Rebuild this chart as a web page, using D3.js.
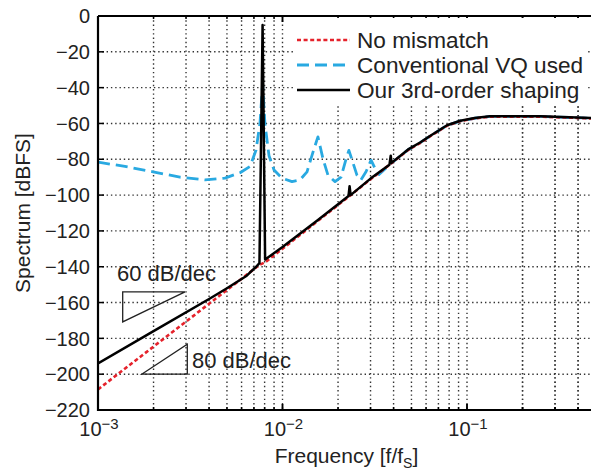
<!DOCTYPE html>
<html><head><meta charset="utf-8">
<script src="https://cdn.jsdelivr.net/npm/d3@7"></script>
<style>
body{margin:0;background:#fff}
svg{display:block}
text{font-family:"Liberation Sans",Arial,Helvetica,sans-serif;fill:#222}
</style>
</head><body>
<svg id="chart" width="591" height="474"></svg>
<script>
// ---------- data ----------
const xDomain = [1e-3, 0.5];
const yDomain = [-220, 0];
const yTickValues = [0, -20, -40, -60, -80, -100, -120, -140, -160, -180, -200, -220];
const xMajorTicks = [1e-3, 1e-2, 1e-1];
const xTickExponents = ["\u22123", "\u22122", "\u22121"];
const seriesNames = ["No mismatch", "Conventional VQ used", "Our 3rd-order shaping"];

const ourShaping = [
  [1e-3,-194],[2e-3,-176],[4e-3,-158],[5e-3,-152],[6.4e-3,-145],[7.2e-3,-140],[7.5e-3,-138],
  [7.8e-3,-5],[8.05e-3,-136],[0.01,-129],[0.0155,-114],[0.0228,-100.5],[0.0231,-95],[0.0234,-100],
  [0.03,-90.8],[0.038,-83],[0.0386,-78],[0.039,-82],[0.048,-74.5],[0.056,-70.5],[0.063,-67],
  [0.078,-61],[0.092,-58.5],[0.11,-57],[0.133,-56],[0.25,-56],[0.47,-57],[0.5,-57.3]
];
const noMismatch = [
  [1e-3,-208.5],[7.5e-3,-139],[8.05e-3,-137.5],[0.01,-130],[0.0155,-114.5],[0.0231,-100.5],
  [0.03,-91.2],[0.0386,-82.5],[0.048,-74.8],[0.056,-70.8],[0.063,-67.2],[0.078,-61.2],
  [0.092,-58.7],[0.11,-57.2],[0.133,-56.2],[0.25,-56.2],[0.47,-57.2],[0.5,-57.5]
];
const conventionalVQ = [
  [1e-3,-81.6],[1.4e-3,-84],[1.99e-3,-87],[2.78e-3,-90],[3.8e-3,-91.5],[4.88e-3,-90.5],
  [5.89e-3,-87.5],[6.67e-3,-84],[7.18e-3,-75],[7.55e-3,-60],[7.8e-3,-38],[8.03e-3,-60],
  [8.45e-3,-78],[9e-3,-86],[9.94e-3,-90.5],[0.01126,-92.5],[0.01244,-91.5],[0.01358,-87],
  [0.01463,-76],[0.01556,-67.5],[0.0166,-80],[0.01766,-89],[0.01927,-92.5],[0.02076,-90],
  [0.02208,-80],[0.0229,-75],[0.0241,-82],[0.02535,-89],[0.0266,-91.5],[0.02835,-87],
  [0.0302,-80.5],[0.0317,-85],[0.03334,-88.5],[0.0386,-82.5],[0.048,-74.6],[0.056,-70.6],
  [0.063,-67.1],[0.078,-61.1],[0.092,-58.6],[0.11,-57.1],[0.133,-56.1],[0.25,-56.1],[0.47,-57.1],[0.5,-57.4]
];
const slopeLabels = ["60 dB/dec", "80 dB/dec"];
const slopeLabelPos = [[1.268e-3,-147.8],[3.23e-3,-196.6]];
const slopeTriangles = [
  [[1.361e-3,-154],[2.962e-3,-154],[1.361e-3,-170.8]],
  [[1.725e-3,-200],[3.048e-3,-183.2],[3.048e-3,-200]]
];

// ---------- layout ----------
const svg = d3.select("#chart");
const L = 98, T = 16, B = 410, R = 98 + 184.5 * Math.log10(500);
const x = d3.scaleLog().domain(xDomain).range([L, R]);
const y = d3.scaleLinear().domain(yDomain).range([B, T]);

svg.append("defs").append("clipPath").attr("id","clip")
  .append("rect").attr("x",L).attr("y",T).attr("width",R-L).attr("height",B-T);

// minor/major grid values
const gridX = [];
for (let d = -3; d <= -1; d++) for (let k = 1; k <= 9; k++) {
  const v = k * Math.pow(10, d);
  if (v > xDomain[0] && v <= xDomain[1]) gridX.push(v);
}
for (let k = 2; k <= 5; k++) gridX.push(k * 0.1);
const gridY = yTickValues.filter(v => v > -220 && v < 0);

const grid = svg.append("g").attr("clip-path","url(#clip)")
  .attr("stroke","#333").attr("stroke-width",1.4).attr("stroke-dasharray","1.4,2.9");
grid.selectAll(".gx").data(gridX).join("line")
  .attr("x1",d=>x(d)).attr("x2",d=>x(d)).attr("y1",T).attr("y2",B);
grid.selectAll(".gy").data(gridY).join("line")
  .attr("x1",L).attr("x2",R).attr("y1",d=>y(d)).attr("y2",d=>y(d));

// ticks (inward)
const ticks = svg.append("g").attr("stroke","#000").attr("stroke-width",1.5);
ticks.selectAll(".tb").data(gridX.concat(xMajorTicks)).join("line")
  .attr("x1",d=>x(d)).attr("x2",d=>x(d))
  .attr("y1",B).attr("y2",d=>B - (xMajorTicks.includes(d)?6:3));
ticks.selectAll(".tt").data(gridX.concat(xMajorTicks)).join("line")
  .attr("x1",d=>x(d)).attr("x2",d=>x(d))
  .attr("y1",T).attr("y2",d=>T + (xMajorTicks.includes(d)?6:3));
ticks.selectAll(".tl").data(yTickValues).join("line")
  .attr("x1",L).attr("x2",L+6).attr("y1",d=>y(d)).attr("y2",d=>y(d));

// legend background (covers grid)
svg.append("rect").attr("x",294).attr("y",18).attr("width",293).attr("height",86).attr("fill","#fff");

// annotations (slope triangles)
svg.append("g").selectAll("path").data(slopeTriangles).join("path")
  .attr("d", t => d3.line().x(p=>x(p[0])).y(p=>y(p[1]))(t) + "Z")
  .attr("fill","none").attr("stroke","#222").attr("stroke-width",1.3);
svg.append("g").selectAll("text").data(slopeLabels).join("text")
  .attr("x",(d,i)=>x(slopeLabelPos[i][0])).attr("y",(d,i)=>y(slopeLabelPos[i][1]))
  .attr("font-size",22).text(d=>d);

// curves
const line = d3.line().x(d=>x(d[0])).y(d=>y(d[1]));
const curves = svg.append("g").attr("clip-path","url(#clip)").attr("fill","none");
const styles = [
  {data: conventionalVQ, color:"#29a9e1", w:2.8, dash:"12,6"},
  {data: noMismatch, color:"#e5222b", w:2.6, dash:"4,2.6"},
  {data: ourShaping, color:"#000", w:2.5, dash:null}
];
styles.forEach(s => {
  curves.append("path").attr("d", line(s.data)).attr("stroke", s.color)
    .attr("stroke-width", s.w).attr("stroke-dasharray", s.dash)
    .attr("stroke-linejoin","round");
});

// frame
svg.append("path").attr("d",`M${L},${T}H591M${L},${T}V${B}H591`)
  .attr("fill","none").attr("stroke","#000").attr("stroke-width",2.2);

// y tick labels
svg.append("g").selectAll("text").data(yTickValues).join("text")
  .attr("x",90).attr("y",d=>y(d)).attr("dy","0.36em").attr("text-anchor","end")
  .attr("font-size",20).text(d => d3.format("")(d).replace("-","\u2212"));

// x tick labels with superscripts
const xl = svg.append("g").selectAll("text").data(xMajorTicks).join("text")
  .attr("x",d=>x(d)+1).attr("y",436).attr("text-anchor","middle").attr("font-size",20);
xl.append("tspan").text("10");
xl.append("tspan").attr("font-size",15).attr("dy",-7).text((d,i)=>xTickExponents[i]);

// axis titles
const xt = svg.append("text").attr("x",(L+ (98+184.5*2.672))/2 + 2).attr("y",463)
  .attr("text-anchor","middle").attr("font-size",21);
xt.append("tspan").text("Frequency [f/f");
xt.append("tspan").attr("font-size",14).attr("dy",5).text("S");
xt.append("tspan").attr("dy",-5).text("]");
svg.append("text").attr("transform",`translate(30,${(T+B)/2}) rotate(-90)`)
  .attr("text-anchor","middle").attr("font-size",21).text("Spectrum [dBFS]");

// legend
const lg = svg.append("g");
const legendRowsY = [40, 65, 90];
const legendStyles = [styles[1], styles[0], styles[2]];
legendStyles.forEach((s,i) => {
  lg.append("line").attr("x1",297).attr("x2",350).attr("y1",legendRowsY[i]).attr("y2",legendRowsY[i])
    .attr("stroke",s.color).attr("stroke-width",s.w).attr("stroke-dasharray",s.dash);
  lg.append("text").attr("x",357).attr("y",legendRowsY[i]+7.5).attr("font-size",22.6).text(seriesNames[i]);
});
</script>
</body></html>
